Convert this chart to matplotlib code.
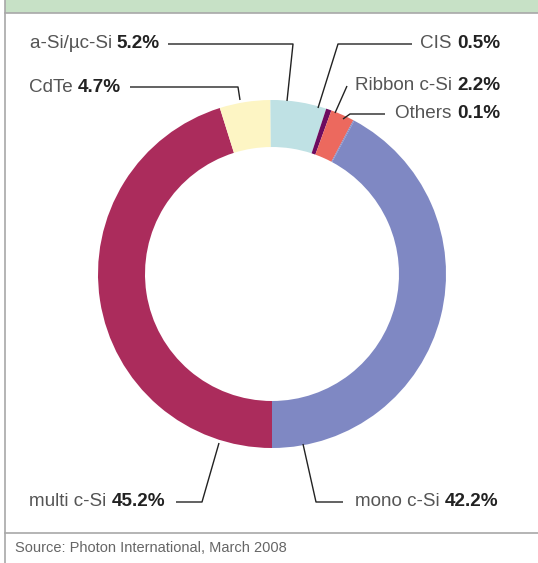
import matplotlib.pyplot as plt
from matplotlib.patches import Rectangle
from matplotlib.offsetbox import TextArea, HPacker, AnnotationBbox

# market share of PV technologies, clockwise from the bottom
techs = ['multi c-Si', 'CdTe', 'a-Si/\u00b5c-Si', 'CIS', 'Ribbon c-Si', 'Others', 'mono c-Si']
shares = [45.2, 4.7, 5.2, 0.5, 2.2, 0.1, 42.2]
colors = ['#ab2c5c', '#fdf5c4', '#bfe1e4', '#6d0b5f', '#ec695e', '#7f88c3', '#7f88c3']

W, H = 538, 563
fig = plt.figure(figsize=(W / 100, H / 100), dpi=100)
ax = fig.add_axes([0, 0, 1, 1])

# y axis runs downward, so counterclock=True draws clockwise on screen
ax.pie(shares, colors=colors, startangle=90, counterclock=True,
       center=(272, 274), radius=174,
       wedgeprops=dict(width=47, linewidth=0))
ax.set_xlim(0, W)
ax.set_ylim(H, 0)
ax.set_aspect('equal')
ax.axis('off')

# frame: green header, left border, source separator
ax.add_patch(Rectangle((4.5, 0), W, 13, facecolor='#c7e1c6', edgecolor='none'))
ax.plot([4.5, W], [13, 13], color='#a8a8a8', lw=1.2)
ax.plot([4.5, 4.5], [0, H], color='#a8a8a8', lw=1.2)
ax.plot([4.5, W], [533, 533], color='#a8a8a8', lw=1.2)

# label anchor, leader line path, alignment
labels = {
    'a-Si/\u00b5c-Si': ((160, 44), [(168, 44), (293, 44), (287, 101)], 'right'),
    'CdTe': ((121, 87), [(130, 87), (238, 87), (240, 100)], 'right'),
    'CIS': ((500, 44), [(412, 44), (338, 44), (318, 108)], 'right'),
    'Ribbon c-Si': ((355, 86), [(347, 86), (335, 113)], 'left'),
    'Others': ((500, 114), [(385, 114), (350, 114), (343, 119)], 'right'),
    'multi c-Si': ((165, 502), [(176, 502), (202, 502), (219, 443)], 'right'),
    'mono c-Si': ((355, 502), [(343, 502), (316, 502), (303, 444)], 'left'),
}

fs = 13.6
for name, share in zip(techs, shares):
    (tx, ty), path, ha = labels[name]
    xs = [p[0] for p in path]
    ys = [p[1] for p in path]
    ax.plot(xs, ys, color='#222222', lw=1.0, solid_capstyle='butt')
    box = HPacker(children=[
        TextArea(name + ' ', textprops=dict(fontsize=fs, color='#555555', family='Liberation Sans')),
        TextArea('%.1f%%' % share, textprops=dict(fontsize=fs, color='#222222',
                                                   family='Liberation Sans', weight='bold')),
    ], pad=0, sep=0, align='baseline')
    ab = AnnotationBbox(box, (tx, ty), frameon=False, pad=0,
                        box_alignment=(1 if ha == 'right' else 0, 0.5))
    ax.add_artist(ab)

ax.text(15, 548, 'Source: Photon International, March 2008', ha='left', va='center',
        fontsize=10.5, color='#666666', family='Liberation Sans')

fig.savefig('out.png', dpi=100)
